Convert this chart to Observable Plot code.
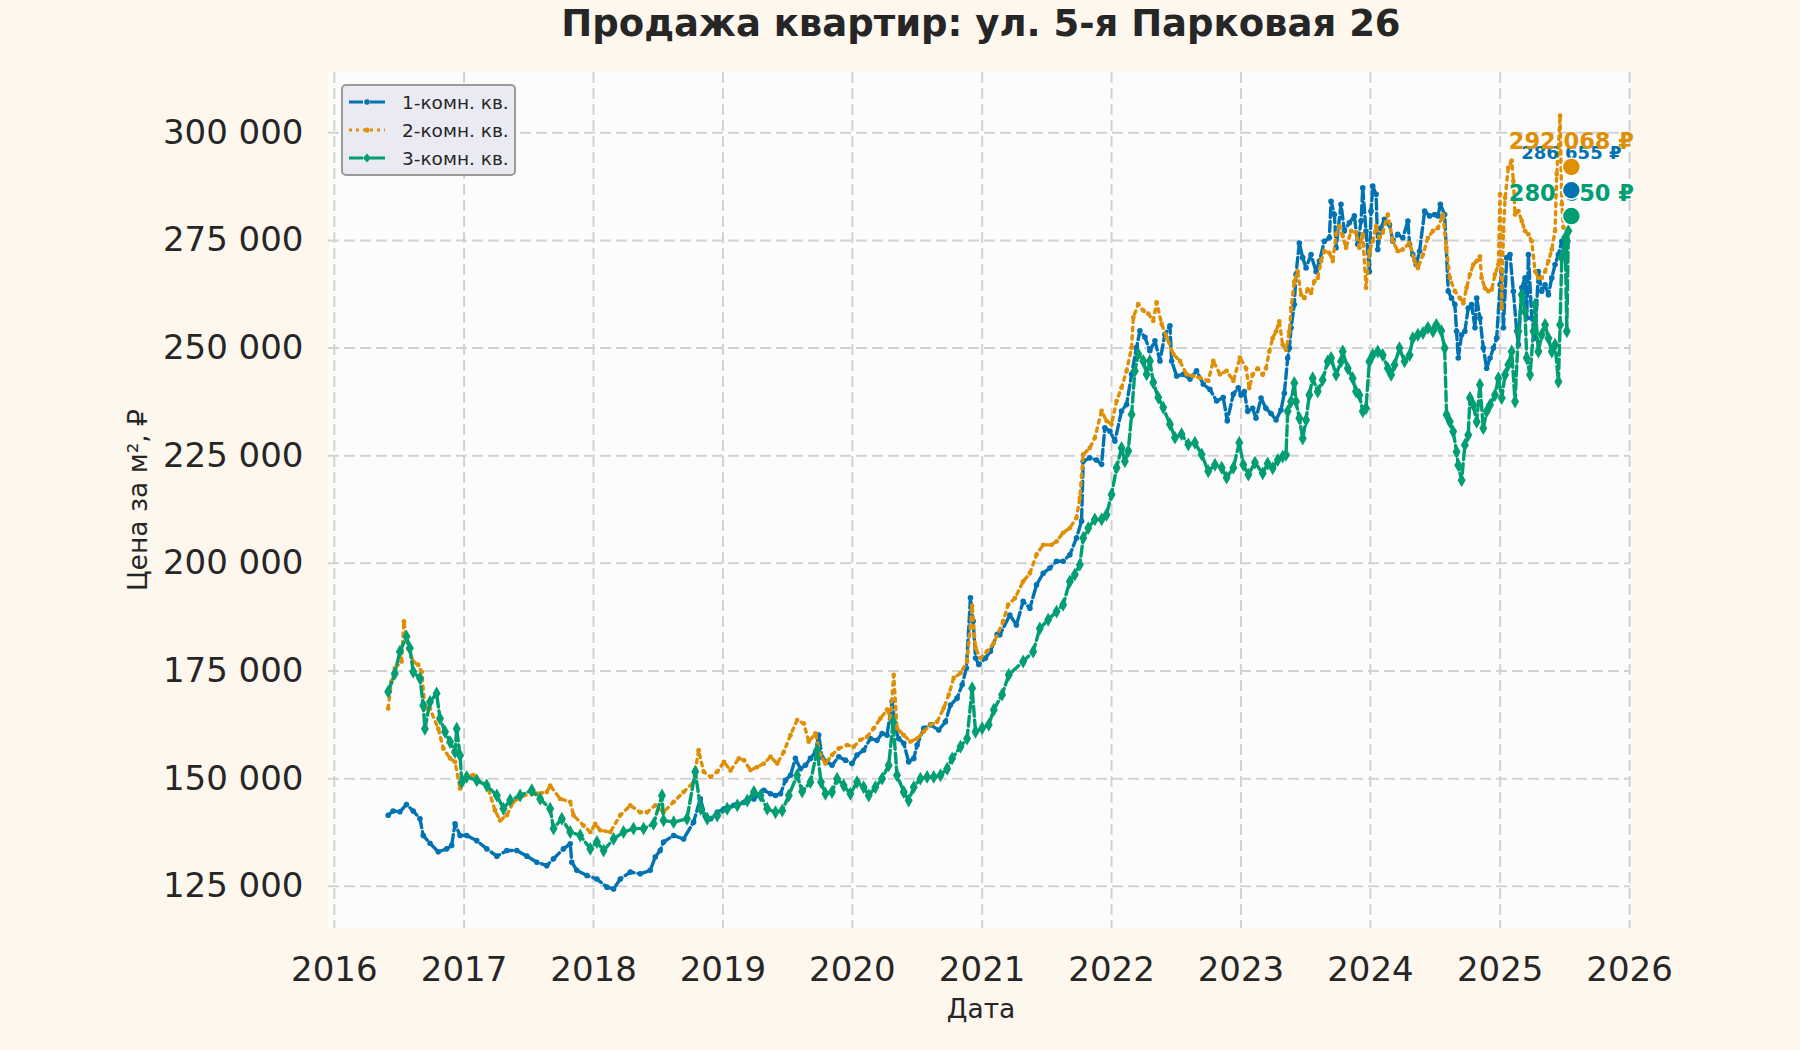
<!DOCTYPE html>
<html><head><meta charset="utf-8">
<script src="https://cdn.jsdelivr.net/npm/d3@7"></script>
<script src="https://cdn.jsdelivr.net/npm/@observablehq/plot@0.6"></script>
<style>
html,body{margin:0;padding:0;background:#fef7ee;}
#wrap{position:relative;width:1800px;height:1050px;overflow:hidden;font-family:"DejaVu Sans",sans-serif;color:#262626;}
#title{position:absolute;left:181px;width:1600px;top:4px;text-align:center;font-weight:bold;font-size:37px;line-height:1.1;}
#xlab{position:absolute;left:781px;width:400px;top:996px;text-align:center;font-size:26.5px;line-height:1;}
#ylab{position:absolute;left:138px;top:500px;transform:translate(-50%,-50%) rotate(-90deg);white-space:nowrap;font-size:26.5px;line-height:1;}
#legend{position:absolute;left:341px;top:84px;width:175px;height:92px;box-sizing:border-box;border:2px solid #9a9a9a;border-radius:5px;background:#eaeaf2;}
.row{position:absolute;left:4px;height:24px;display:flex;align-items:center;font-size:18.5px;}
.row svg{width:40px;height:14px;margin-right:15px;}
</style></head><body><div id="wrap">
<div id="title">Продажа квартир: ул. 5-я Парковая 26</div>
<div id="xlab">Дата</div>
<div id="ylab">Цена за м², ₽</div>
<div id="legend"></div>
</div>
<script>
const seriesNames = ["1-комн. кв.", "2-комн. кв.", "3-комн. кв."];
const colors = ["#0173b2", "#de8f05", "#029e73"];

// 1-комн. кв.
const t1 = [2016.415,2016.453,2016.505,2016.556,2016.608,2016.660,2016.685,2016.737,2016.801,2016.866,2016.904,2016.930,2016.969,2017.020,2017.098,2017.175,2017.253,2017.330,2017.407,2017.485,2017.562,2017.639,2017.691,2017.768,2017.820,2017.832,2017.871,2017.949,2018.026,2018.104,2018.155,2018.207,2018.284,2018.361,2018.438,2018.477,2018.515,2018.541,2018.619,2018.696,2018.773,2018.825,2018.863,2018.905,2018.956,2019.008,2019.085,2019.162,2019.239,2019.316,2019.368,2019.406,2019.445,2019.483,2019.522,2019.560,2019.599,2019.638,2019.676,2019.715,2019.740,2019.766,2019.805,2019.843,2019.895,2019.946,2019.997,2020.036,2020.087,2020.139,2020.190,2020.229,2020.267,2020.306,2020.332,2020.357,2020.396,2020.434,2020.473,2020.499,2020.550,2020.602,2020.666,2020.717,2020.756,2020.807,2020.846,2020.879,2020.910,2020.931,2020.949,2020.974,2021.026,2021.064,2021.116,2021.137,2021.214,2021.265,2021.317,2021.369,2021.420,2021.472,2021.523,2021.575,2021.626,2021.678,2021.729,2021.768,2021.781,2021.832,2021.884,2021.923,2021.948,2021.987,2022.026,2022.077,2022.116,2022.155,2022.193,2022.219,2022.258,2022.296,2022.335,2022.374,2022.412,2022.451,2022.464,2022.503,2022.554,2022.606,2022.657,2022.709,2022.760,2022.812,2022.863,2022.894,2022.941,2022.979,2023.000,2023.026,2023.052,2023.090,2023.116,2023.155,2023.193,2023.232,2023.271,2023.309,2023.335,2023.361,2023.374,2023.387,2023.412,2023.425,2023.451,2023.477,2023.503,2023.541,2023.580,2023.606,2023.644,2023.683,2023.696,2023.722,2023.735,2023.773,2023.799,2023.838,2023.876,2023.902,2023.928,2023.941,2023.966,2023.992,2024.005,2024.018,2024.044,2024.057,2024.082,2024.108,2024.147,2024.173,2024.211,2024.250,2024.289,2024.302,2024.327,2024.353,2024.379,2024.418,2024.456,2024.495,2024.521,2024.539,2024.572,2024.600,2024.625,2024.651,2024.664,2024.677,2024.703,2024.728,2024.754,2024.780,2024.806,2024.819,2024.844,2024.870,2024.896,2024.922,2024.948,2024.973,2024.999,2025.012,2025.025,2025.051,2025.076,2025.102,2025.128,2025.141,2025.167,2025.192,2025.205,2025.218,2025.244,2025.270,2025.295,2025.321,2025.347,2025.373,2025.399,2025.424,2025.450,2025.476,2025.502,2025.522];
const v1 = [141500,142500,142300,144000,142500,140700,136800,135000,133000,133700,134500,139500,136800,136800,135600,133700,132000,133300,133300,132000,130600,129800,131400,133700,134900,130600,128700,127500,126700,124800,124400,126700,128300,127900,128700,131800,133300,135300,136800,136000,139900,145300,141400,140700,142200,143000,143800,144500,145300,147300,146500,146100,146500,149600,150800,154700,152300,153100,154700,156200,160100,154900,153900,153100,155100,154300,153500,155500,156600,159300,158900,160500,160100,167900,161700,159300,158200,153900,154700,157800,161700,162500,161300,163200,167100,168700,171800,175700,192000,186600,178000,176500,178000,179600,183500,183400,188000,185700,191200,189600,195000,197700,198900,200500,200500,202000,205900,209800,223700,224500,224000,223000,231500,230700,228400,235400,236900,243900,250100,254000,252500,249400,251700,247000,253200,255200,247000,243500,243900,242800,244700,241600,240400,237700,238500,233100,239300,240800,239100,239900,235300,236000,233700,238400,236000,234800,233300,235600,239500,247700,250000,254700,260100,267100,274400,271000,268600,271700,267800,270200,274800,275600,284100,281000,273300,283400,277200,279100,280700,274100,279500,287200,277200,267800,281800,287600,285700,272900,277900,279900,278700,274800,276400,275600,279500,274100,271700,269400,272500,281800,280700,281000,280700,283400,281000,263200,261600,260100,253900,247700,253100,253900,259300,260100,254700,261600,257000,250000,245300,247700,250000,252300,264700,267800,254700,271000,271700,263200,253900,250800,264000,266300,257000,271700,257000,252300,267800,263200,264700,262400,266300,269400,271700,274800,271000,274800];

// 2-комн. кв.
const t2 = [2016.415,2016.440,2016.466,2016.518,2016.536,2016.569,2016.608,2016.647,2016.673,2016.699,2016.737,2016.801,2016.840,2016.892,2016.930,2016.969,2017.020,2017.072,2017.123,2017.175,2017.239,2017.278,2017.330,2017.381,2017.459,2017.562,2017.639,2017.665,2017.742,2017.820,2017.845,2017.923,2017.975,2018.013,2018.052,2018.130,2018.207,2018.284,2018.361,2018.413,2018.477,2018.541,2018.619,2018.696,2018.773,2018.812,2018.851,2018.905,2018.956,2019.008,2019.059,2019.123,2019.162,2019.213,2019.265,2019.316,2019.368,2019.419,2019.470,2019.522,2019.573,2019.625,2019.663,2019.715,2019.753,2019.792,2019.843,2019.895,2019.959,2020.010,2020.062,2020.113,2020.165,2020.216,2020.267,2020.293,2020.319,2020.344,2020.396,2020.447,2020.499,2020.550,2020.602,2020.653,2020.704,2020.743,2020.781,2020.833,2020.884,2020.923,2020.949,2020.987,2021.039,2021.090,2021.162,2021.201,2021.253,2021.317,2021.369,2021.420,2021.472,2021.536,2021.575,2021.626,2021.678,2021.729,2021.755,2021.781,2021.832,2021.871,2021.923,2021.961,2022.000,2022.039,2022.077,2022.116,2022.155,2022.168,2022.206,2022.245,2022.284,2022.322,2022.348,2022.387,2022.425,2022.477,2022.528,2022.580,2022.631,2022.683,2022.747,2022.786,2022.838,2022.889,2022.941,2022.992,2023.039,2023.064,2023.090,2023.129,2023.168,2023.193,2023.219,2023.245,2023.271,2023.296,2023.322,2023.348,2023.374,2023.387,2023.412,2023.438,2023.464,2023.490,2023.515,2023.541,2023.567,2023.593,2023.619,2023.644,2023.683,2023.709,2023.735,2023.760,2023.786,2023.812,2023.851,2023.889,2023.915,2023.941,2023.966,2023.992,2024.018,2024.044,2024.070,2024.095,2024.134,2024.173,2024.211,2024.250,2024.302,2024.340,2024.366,2024.405,2024.443,2024.482,2024.521,2024.559,2024.585,2024.612,2024.651,2024.690,2024.716,2024.741,2024.767,2024.793,2024.819,2024.844,2024.857,2024.883,2024.909,2024.935,2024.960,2024.986,2024.999,2025.012,2025.025,2025.038,2025.063,2025.089,2025.102,2025.115,2025.141,2025.167,2025.192,2025.218,2025.244,2025.270,2025.295,2025.321,2025.347,2025.373,2025.399,2025.424,2025.437,2025.450,2025.463,2025.476,2025.489];
const v2 = [166300,172500,175600,177200,186500,180300,177200,176400,174800,166300,166300,161600,157000,154700,153900,147700,150800,150800,149200,148800,142600,140300,141500,144600,146100,146500,146900,148400,145300,144600,141500,139100,137600,139500,138000,137600,141500,143800,142200,142200,143800,142200,144600,146900,149200,156600,151600,150400,151600,153900,151900,154700,154300,152000,152700,153500,155100,153500,156200,160100,163600,162800,158600,160500,155500,153500,155500,157000,157800,157400,159000,159700,161700,164000,166000,164000,174100,161700,160100,158600,159300,160900,162500,163200,166400,169500,173400,174500,177200,190100,180400,178000,179600,181500,186500,190400,191900,195800,197700,202000,204300,204300,205100,207100,208200,210600,215200,225300,226800,229200,235400,233100,232300,237700,240800,244700,250100,257100,260200,258700,258000,256300,260600,255600,252500,248600,247000,243900,243500,243100,242400,247000,243900,244700,242400,247800,245300,240700,243800,245300,243800,245300,249200,252300,253900,256200,250800,249600,253900,259300,265500,267800,262400,261600,263600,262800,265500,266300,270200,272500,272100,270200,276400,278300,276000,273300,277200,276800,273300,276400,264000,272500,274800,278300,275600,276800,281000,274800,272500,272900,274400,270200,268600,271700,275600,277200,277900,281000,273300,266300,263200,261600,260400,264000,267100,269400,270200,271300,266300,263900,263200,263600,267100,269400,285700,259300,277200,284900,291900,293500,288800,281000,281800,279500,277200,276400,274800,267800,266300,266300,267800,270200,272900,277200,290400,296600,304000,283400,278000];

// 3-комн. кв.
const t3 = [2016.415,2016.466,2016.505,2016.556,2016.582,2016.608,2016.660,2016.685,2016.698,2016.737,2016.788,2016.814,2016.853,2016.892,2016.930,2016.943,2016.969,2016.982,2017.020,2017.098,2017.175,2017.253,2017.304,2017.356,2017.433,2017.523,2017.588,2017.665,2017.691,2017.755,2017.820,2017.897,2017.975,2018.026,2018.078,2018.155,2018.232,2018.309,2018.387,2018.464,2018.529,2018.541,2018.619,2018.722,2018.786,2018.828,2018.879,2018.956,2019.033,2019.111,2019.188,2019.239,2019.290,2019.342,2019.406,2019.458,2019.509,2019.573,2019.612,2019.676,2019.728,2019.758,2019.792,2019.843,2019.882,2019.933,2019.985,2020.036,2020.087,2020.126,2020.177,2020.229,2020.280,2020.314,2020.344,2020.396,2020.434,2020.473,2020.524,2020.576,2020.627,2020.679,2020.730,2020.769,2020.833,2020.884,2020.923,2020.949,2021.000,2021.051,2021.090,2021.154,2021.206,2021.317,2021.394,2021.446,2021.510,2021.575,2021.626,2021.678,2021.716,2021.755,2021.781,2021.820,2021.871,2021.923,2021.961,2022.000,2022.039,2022.077,2022.103,2022.129,2022.155,2022.180,2022.206,2022.245,2022.271,2022.296,2022.322,2022.361,2022.399,2022.451,2022.490,2022.541,2022.593,2022.644,2022.696,2022.747,2022.799,2022.851,2022.889,2022.941,2022.987,2023.018,2023.057,2023.108,2023.168,2023.206,2023.245,2023.284,2023.322,2023.348,2023.361,2023.387,2023.412,2023.425,2023.451,2023.477,2023.503,2023.528,2023.554,2023.593,2023.631,2023.670,2023.696,2023.735,2023.773,2023.786,2023.825,2023.863,2023.889,2023.915,2023.941,2023.966,2023.992,2024.018,2024.057,2024.095,2024.134,2024.160,2024.186,2024.224,2024.263,2024.302,2024.327,2024.366,2024.405,2024.443,2024.482,2024.508,2024.546,2024.572,2024.587,2024.612,2024.638,2024.664,2024.677,2024.703,2024.728,2024.754,2024.767,2024.793,2024.819,2024.844,2024.870,2024.896,2024.922,2024.960,2024.986,2025.012,2025.038,2025.063,2025.089,2025.115,2025.141,2025.167,2025.192,2025.205,2025.231,2025.257,2025.270,2025.295,2025.321,2025.347,2025.373,2025.399,2025.424,2025.450,2025.463,2025.476,2025.502,2025.515,2025.527];
const v3 = [170200,174400,179500,183000,180300,174800,173300,167000,161600,167800,169800,164000,160900,158500,156200,161600,155400,149200,150400,149600,148400,146100,143000,145000,146100,147300,145300,143000,138400,140700,137600,136800,133700,135300,133300,136000,137600,138400,138400,139500,146100,140300,139900,140700,151600,143000,140700,141400,143000,143800,144900,146900,146100,143000,142200,142600,146100,150800,147000,149200,156600,149200,146500,146900,150000,148400,146500,149200,148000,146100,148000,150000,153100,163200,150800,146900,144900,148000,150000,150400,150400,150800,152300,154700,157400,159300,171000,160900,161700,162500,166000,169500,174100,177200,179500,184900,186900,188800,190400,195800,197400,199700,205900,208200,210200,210200,211300,216000,222200,226800,223700,226100,234600,244700,248600,247000,243900,247000,242000,238500,236200,232300,229200,230000,227600,228000,225300,221400,222900,222200,219900,222200,228000,222900,220600,223400,220900,223200,222100,224000,224800,225200,235300,237600,241900,237600,233700,229000,233300,239100,243000,239900,242600,246900,247700,243800,246900,249200,245300,243000,239900,239100,235300,236000,246900,248400,249200,248400,245300,243800,246100,250000,246900,248400,252300,253100,253500,254700,253900,255400,254000,250000,234500,232900,230600,225900,222800,219300,227500,229800,238400,236800,232900,241500,231400,235300,236800,239100,243000,238400,243800,246100,249200,237600,253900,262400,258500,247700,243800,253900,260100,249200,253100,255400,252300,249200,250800,242200,255400,271000,275600,253900,277200];

// last values (annotated points)
const lastT = 2025.55;
const lastValues = [286655, 292068, 280650];
const labelSizes = [18, 22.5, 22.5];
const labelDy = [-37, -25, -22];

const xYears = [2016,2017,2018,2019,2020,2021,2022,2023,2024,2025,2026];
const yTicks = [125000,150000,175000,200000,225000,250000,275000,300000];

function toDate(y) {
  const yr = Math.floor(y);
  const s = Date.UTC(yr, 0, 1), e = Date.UTC(yr + 1, 0, 1);
  return new Date(s + (y - yr) * (e - s));
}
const fmt = v => d3.format(",")(v).replace(/,/g, " ");
const series = [[t1, v1], [t2, v2], [t3, v3]].map(([t, v]) => t.map((d, i) => ({date: toDate(d), value: v[i]})));
const lastRows = lastValues.map((v, i) => ({date: toDate(lastT), value: v, label: fmt(v) + " ₽"}));
const xTickDates = xYears.map(y => new Date(Date.UTC(y, 0, 1)));

const gridStyle = {stroke: "#d2d2d2", strokeOpacity: 1, strokeWidth: 2, strokeDasharray: "11,5"};
const lineStyles = [
  {strokeWidth: 3.4, strokeDasharray: "10,4"},
  {strokeWidth: 3.4, strokeDasharray: "3.4,5"},
  {strokeWidth: 3.4, strokeDasharray: "10,4"}
];
const dotStyles = [
  {r: 2.8, symbol: "circle"},
  {r: 2.4, symbol: "circle"},
  {r: 4.2, symbol: "diamond"}
];

const marks = [
  Plot.frame({fill: "#fcfcfc", stroke: "none"}),
  Plot.gridX(xTickDates, gridStyle),
  Plot.gridY(yTicks, gridStyle)
];
series.forEach((rows, i) => {
  marks.push(Plot.line(rows, {x: "date", y: "value", stroke: colors[i], ...lineStyles[i]}));
  marks.push(Plot.dot(rows, {x: "date", y: "value", fill: colors[i], stroke: "none", ...dotStyles[i]}));
});
[0, 2, 1].forEach(i => {
  marks.push(Plot.text([lastRows[i]], {x: "date", y: "value", text: "label", dy: labelDy[i], fill: colors[i], fontWeight: "bold", fontSize: labelSizes[i], textAnchor: "middle"}));
});
[1, 0, 2].forEach(i => {
  marks.push(Plot.dot([lastRows[i]], {x: "date", y: "value", r: 9, fill: colors[i], stroke: "white", strokeWidth: 1.5}));
});

const chart = Plot.plot({
  width: 1800, height: 1050,
  marginLeft: 328, marginRight: 170, marginTop: 72, marginBottom: 122,
  style: {background: "transparent", fontFamily: "DejaVu Sans", fontSize: "34px", color: "#262626", overflow: "visible"},
  x: {type: "utc", domain: [toDate(2015.955), toDate(2026.007)], ticks: xTickDates, tickFormat: d => String(d.getUTCFullYear()), tickSize: 0, tickPadding: 28, label: null},
  y: {domain: [115200, 314000], ticks: yTicks, tickFormat: fmt, tickSize: 0, tickPadding: 25, label: null},
  marks
});
chart.style.position = "absolute";
chart.style.left = "0px";
chart.style.top = "0px";
const wrap = document.getElementById("wrap");
wrap.insertBefore(chart, wrap.firstChild);

// legend
const legend = document.getElementById("legend");
const rowTops = [4, 32, 60];
seriesNames.forEach((name, i) => {
  const c = colors[i];
  let sample;
  if (i === 1) {
    sample = `<line x1="2" x2="38" y1="7" y2="7" stroke="${c}" stroke-width="3" stroke-dasharray="3,4"/><circle cx="20" cy="7" r="2.6" fill="${c}"/>`;
  } else {
    const mk = i === 0 ? `<circle cx="20" cy="7" r="2.8" fill="${c}"/>` : `<path d="M20 2.5 L24 7 L20 11.5 L16 7 Z" fill="${c}"/>`;
    sample = `<line x1="2" x2="16" y1="7" y2="7" stroke="${c}" stroke-width="3"/><line x1="23" x2="38" y1="7" y2="7" stroke="${c}" stroke-width="3"/>` + mk;
  }
  const row = document.createElement("div");
  row.className = "row";
  row.style.top = rowTops[i] + "px";
  row.innerHTML = `<svg viewBox="0 0 40 14">${sample}</svg><span>${name}</span>`;
  legend.appendChild(row);
});
</script>
</body></html>
